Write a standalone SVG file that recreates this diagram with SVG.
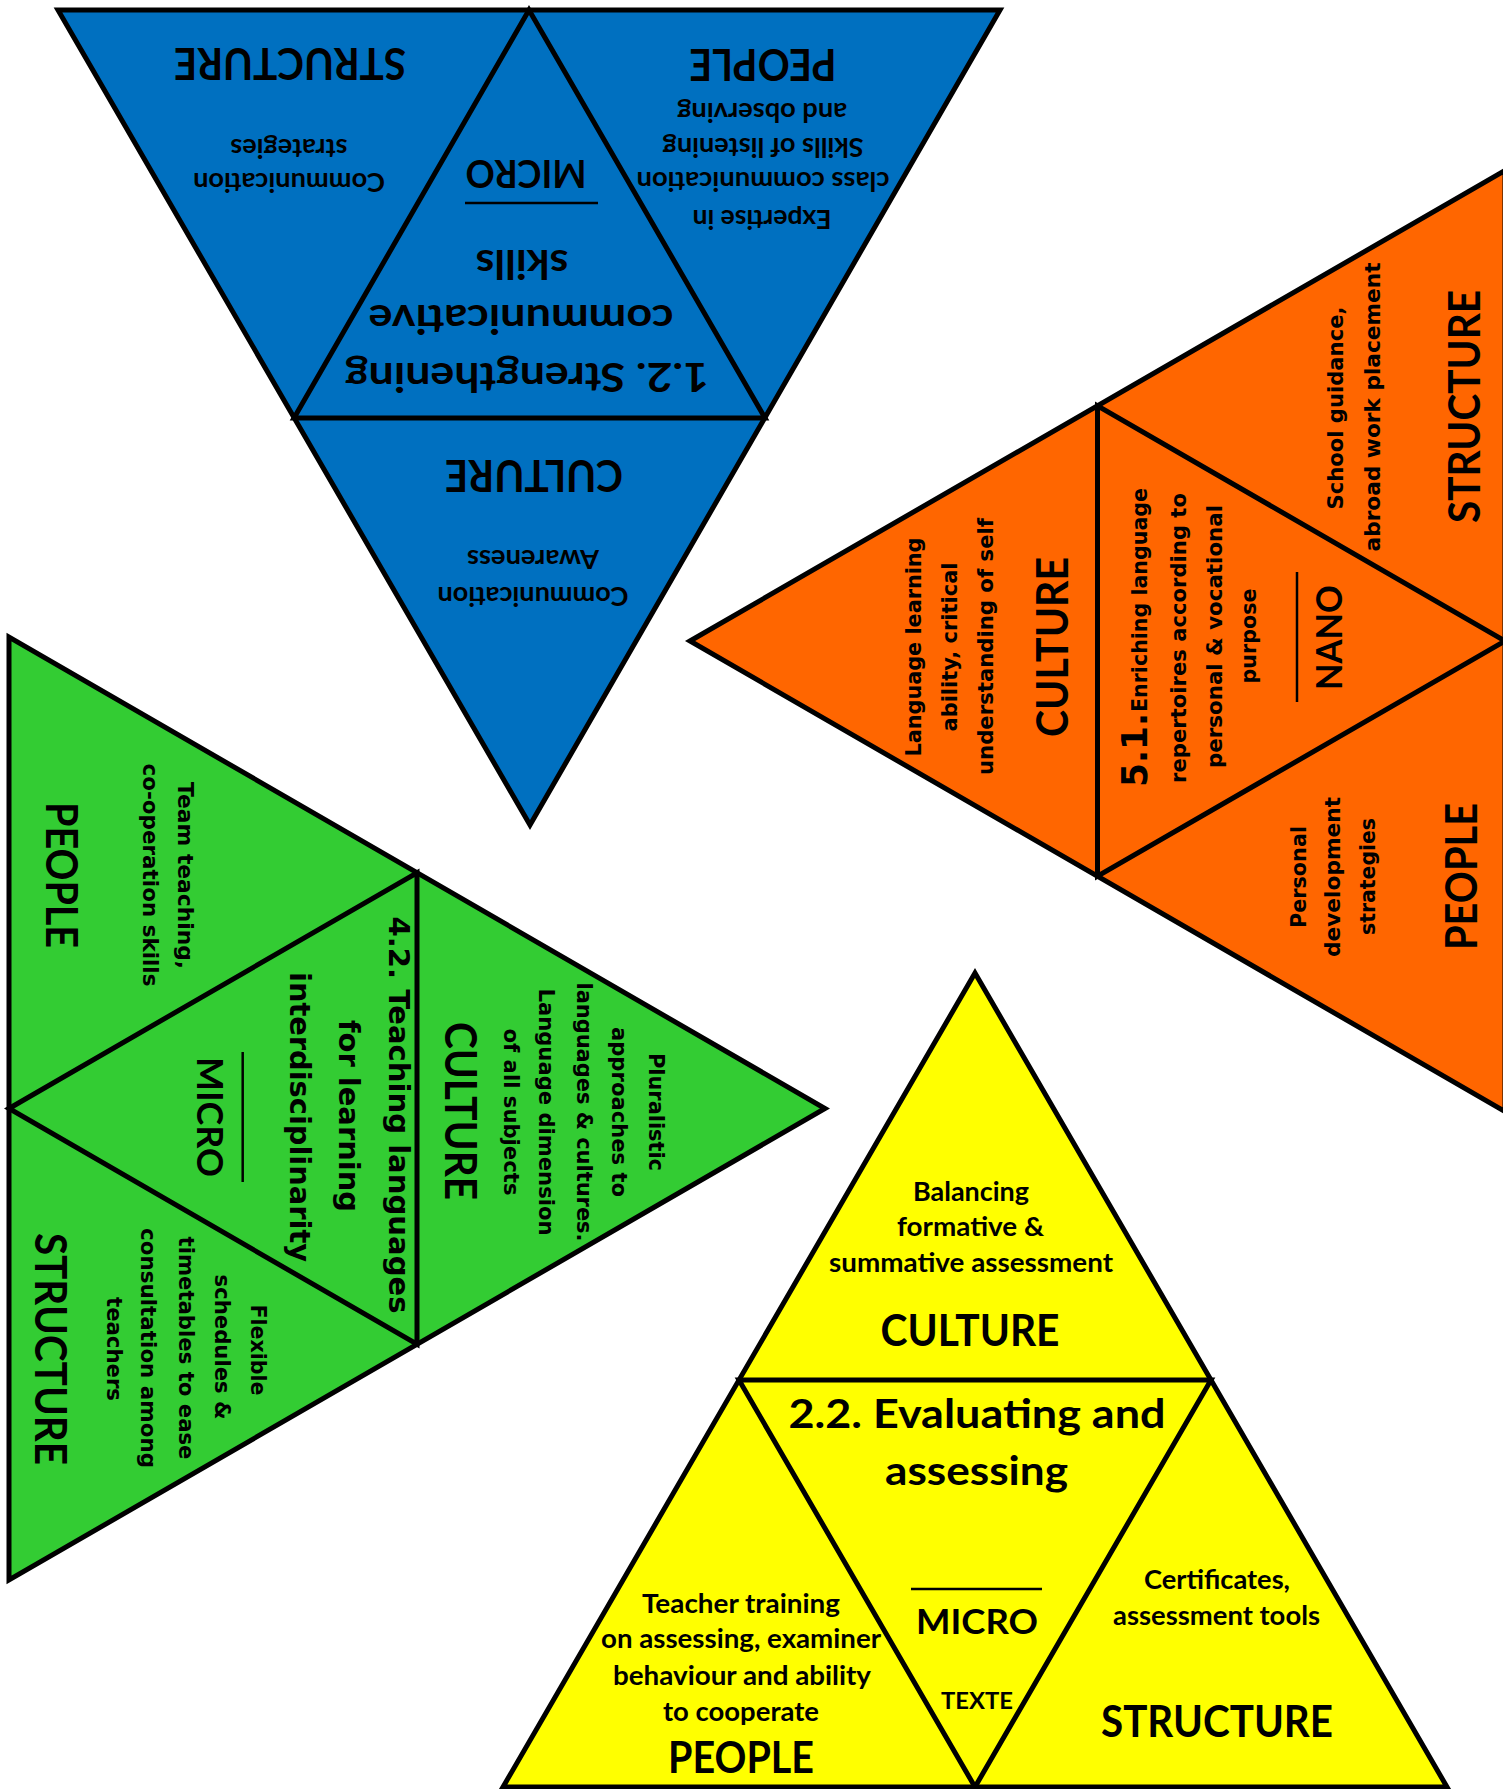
<svg xmlns="http://www.w3.org/2000/svg" width="1503" height="1789" viewBox="0 0 1503 1789">
<style>
.tri{stroke:#000;stroke-width:5;stroke-linejoin:miter}
.in{fill:none;stroke:#000;stroke-width:5;stroke-linejoin:miter}
.ul{stroke:#000;stroke-width:2.5}
text{fill:#000;font-weight:bold;text-anchor:middle}
.c{font-family:Lato,"Open Sans","Liberation Sans",sans-serif}
.d{font-family:"DejaVu Sans","Liberation Sans",sans-serif}
.lab{font-size:43px}
.s{font-size:26px}
.ds{font-size:21.5px}
</style>
<rect width="1503" height="1789" fill="#fff"/>

<g id="blue">
<polygon class="tri" fill="#0070C0" points="58,10 1000,10 530,825"/>
<polygon class="in" points="529,10 294,418 765,418"/>
<line class="ul" x1="465" y1="203" x2="598" y2="203"/>
<g class="c">
<text class="lab" textLength="232" lengthAdjust="spacingAndGlyphs" transform="translate(290,48) rotate(180)">STRUCTURE</text>
<text class="s" textLength="117" lengthAdjust="spacingAndGlyphs" transform="translate(289,139) rotate(180)">strategies</text>
<text class="s" textLength="192" lengthAdjust="spacingAndGlyphs" transform="translate(289,173) rotate(180)">Communication</text>
<text class="lab" textLength="147" lengthAdjust="spacingAndGlyphs" transform="translate(763,49) rotate(180)">PEOPLE</text>
<text class="s" textLength="170" lengthAdjust="spacingAndGlyphs" transform="translate(762,103) rotate(180)">and observing</text>
<text class="s" textLength="201" lengthAdjust="spacingAndGlyphs" transform="translate(763,138) rotate(180)">Skills of listening</text>
<text class="s" textLength="253" lengthAdjust="spacingAndGlyphs" transform="translate(763,172) rotate(180)">class communication</text>
<text class="s" textLength="139" lengthAdjust="spacingAndGlyphs" transform="translate(762,210) rotate(180)">Expertise in</text>
<text font-size="38" textLength="121" lengthAdjust="spacingAndGlyphs" transform="translate(526,160) rotate(180)">MICRO</text>
<text font-size="40" textLength="93" lengthAdjust="spacingAndGlyphs" transform="translate(522,250) rotate(180)">skills</text>
<text font-size="40" textLength="305" lengthAdjust="spacingAndGlyphs" transform="translate(521,305) rotate(180)">communicative</text>
<text font-size="40" textLength="364" lengthAdjust="spacingAndGlyphs" transform="translate(527,363) rotate(180)">1.2. Strengthening</text>
<text class="lab" textLength="178" lengthAdjust="spacingAndGlyphs" transform="translate(534,460) rotate(180)">CULTURE</text>
<text class="s" textLength="132" lengthAdjust="spacingAndGlyphs" transform="translate(533,550) rotate(180)">Awareness</text>
<text class="s" textLength="191" lengthAdjust="spacingAndGlyphs" transform="translate(533,587) rotate(180)">Communication</text>
</g>
</g>

<g id="orange">
<polygon class="tri" fill="#FF6600" points="690,641 1505,170.5 1505,1111.5"/>
<polygon class="in" points="1097.5,405.75 1097.5,876.25 1505,641"/>
<line class="ul" x1="1297" y1="572" x2="1297" y2="702"/>
<g class="d ds">
<text textLength="219" lengthAdjust="spacingAndGlyphs" transform="translate(921,647) rotate(-90)">Language learning</text>
<text textLength="169" lengthAdjust="spacingAndGlyphs" transform="translate(957,647) rotate(-90)">ability, critical</text>
<text textLength="257" lengthAdjust="spacingAndGlyphs" transform="translate(993,646.5) rotate(-90)">understanding of self</text>
<text font-size="35" textLength="74" lengthAdjust="spacingAndGlyphs" transform="translate(1147,750) rotate(-90)">5.1.</text>
<text textLength="224" lengthAdjust="spacingAndGlyphs" transform="translate(1147,600) rotate(-90)">Enriching language</text>
<text textLength="290" lengthAdjust="spacingAndGlyphs" transform="translate(1186,638) rotate(-90)">repertoires according to</text>
<text textLength="263" lengthAdjust="spacingAndGlyphs" transform="translate(1222,636.5) rotate(-90)">personal &amp; vocational</text>
<text textLength="95" lengthAdjust="spacingAndGlyphs" transform="translate(1256,636) rotate(-90)">purpose</text>
<text textLength="203" lengthAdjust="spacingAndGlyphs" transform="translate(1343,408) rotate(-90)">School guidance,</text>
<text textLength="289" lengthAdjust="spacingAndGlyphs" transform="translate(1380,407) rotate(-90)">abroad work placement</text>
<text textLength="102" lengthAdjust="spacingAndGlyphs" transform="translate(1306,877) rotate(-90)">Personal</text>
<text textLength="160" lengthAdjust="spacingAndGlyphs" transform="translate(1340,877) rotate(-90)">development</text>
<text textLength="117" lengthAdjust="spacingAndGlyphs" transform="translate(1375,876.5) rotate(-90)">strategies</text>
</g>
<g class="c lab">
<text textLength="180" lengthAdjust="spacingAndGlyphs" transform="translate(1068,647) rotate(-90)">CULTURE</text>
<text font-size="37" textLength="105" lengthAdjust="spacingAndGlyphs" transform="translate(1342,637.5) rotate(-90)">NANO</text>
<text textLength="233" lengthAdjust="spacingAndGlyphs" transform="translate(1480,406.5) rotate(-90)">STRUCTURE</text>
<text textLength="147" lengthAdjust="spacingAndGlyphs" transform="translate(1477,876.5) rotate(-90)">PEOPLE</text>
</g>
</g>

<g id="green">
<polygon class="tri" fill="#33CC33" points="9,637 9,1580 825,1108.5"/>
<polygon class="in" points="9,1108.5 417,872.75 417,1344.25"/>
<line class="ul" x1="242.7" y1="1052" x2="242.7" y2="1182"/>
<g class="d ds">
<text textLength="187" lengthAdjust="spacingAndGlyphs" transform="translate(178,875.6) rotate(90)">Team teaching,</text>
<text textLength="223" lengthAdjust="spacingAndGlyphs" transform="translate(143,875) rotate(90)">co-operation skills</text>
<text font-size="29" textLength="397" lengthAdjust="spacingAndGlyphs" transform="translate(389,1115) rotate(90)">4.2. Teaching languages</text>
<text font-size="29" textLength="192" lengthAdjust="spacingAndGlyphs" transform="translate(339,1116) rotate(90)">for learning</text>
<text font-size="29" textLength="290" lengthAdjust="spacingAndGlyphs" transform="translate(290,1117) rotate(90)">interdisciplinarity</text>
<text textLength="118" lengthAdjust="spacingAndGlyphs" transform="translate(649,1112) rotate(90)">Pluralistic</text>
<text textLength="170" lengthAdjust="spacingAndGlyphs" transform="translate(612,1112) rotate(90)">approaches to</text>
<text textLength="259" lengthAdjust="spacingAndGlyphs" transform="translate(577,1112) rotate(90)">languages &amp; cultures.</text>
<text textLength="247" lengthAdjust="spacingAndGlyphs" transform="translate(539,1112) rotate(90)">Language dimension</text>
<text textLength="167" lengthAdjust="spacingAndGlyphs" transform="translate(504,1112) rotate(90)">of all subjects</text>
<text textLength="91" lengthAdjust="spacingAndGlyphs" transform="translate(251,1350) rotate(90)">Flexible</text>
<text textLength="145" lengthAdjust="spacingAndGlyphs" transform="translate(215,1347) rotate(90)">schedules &amp;</text>
<text textLength="223" lengthAdjust="spacingAndGlyphs" transform="translate(179,1348) rotate(90)">timetables to ease</text>
<text textLength="240" lengthAdjust="spacingAndGlyphs" transform="translate(141,1348) rotate(90)">consultation among</text>
<text textLength="104" lengthAdjust="spacingAndGlyphs" transform="translate(107,1349) rotate(90)">teachers</text>
</g>
<g class="c lab">
<text textLength="146" lengthAdjust="spacingAndGlyphs" transform="translate(45.5,875) rotate(90)">PEOPLE</text>
<text font-size="37" textLength="120" lengthAdjust="spacingAndGlyphs" transform="translate(197,1117) rotate(90)">MICRO</text>
<text textLength="178" lengthAdjust="spacingAndGlyphs" transform="translate(444.6,1111) rotate(90)">CULTURE</text>
<text textLength="232" lengthAdjust="spacingAndGlyphs" transform="translate(35,1349) rotate(90)">STRUCTURE</text>
</g>
</g>

<g id="yellow">
<polygon class="tri" fill="#FFFF00" points="975,973 1447,1787 503,1787"/>
<polygon class="in" points="739,1380 1211,1380 975,1787"/>
<line class="ul" x1="911" y1="1589" x2="1042" y2="1589"/>
<g class="c">
<text class="s" x="971" y="1201" textLength="116" lengthAdjust="spacingAndGlyphs">Balancing</text>
<text class="s" x="970.5" y="1236" textLength="147" lengthAdjust="spacingAndGlyphs">formative &amp;</text>
<text class="s" x="971" y="1272" textLength="284" lengthAdjust="spacingAndGlyphs">summative assessment</text>
<text class="lab" x="970" y="1346" textLength="179" lengthAdjust="spacingAndGlyphs">CULTURE</text>
<text font-size="40" x="977" y="1428" textLength="377" lengthAdjust="spacingAndGlyphs">2.2. Evaluating and</text>
<text font-size="40" x="976.5" y="1485" textLength="183" lengthAdjust="spacingAndGlyphs">assessing</text>
<text font-size="35" x="977" y="1634" textLength="122" lengthAdjust="spacingAndGlyphs">MICRO</text>
<text font-size="23" x="977" y="1709" textLength="72" lengthAdjust="spacingAndGlyphs">TEXTE</text>
<text class="s" x="741" y="1613" textLength="198" lengthAdjust="spacingAndGlyphs">Teacher training</text>
<text class="s" x="741" y="1648" textLength="280" lengthAdjust="spacingAndGlyphs">on assessing, examiner</text>
<text class="s" x="742" y="1685" textLength="258" lengthAdjust="spacingAndGlyphs">behaviour and ability</text>
<text class="s" x="741" y="1721" textLength="156" lengthAdjust="spacingAndGlyphs">to cooperate</text>
<text class="lab" x="741" y="1773" textLength="146" lengthAdjust="spacingAndGlyphs">PEOPLE</text>
<text class="s" x="1217" y="1589" textLength="146" lengthAdjust="spacingAndGlyphs">Certificates,</text>
<text class="s" x="1216.5" y="1625" textLength="207" lengthAdjust="spacingAndGlyphs">assessment tools</text>
<text class="lab" x="1217" y="1737" textLength="232" lengthAdjust="spacingAndGlyphs">STRUCTURE</text>
</g>
</g>
</svg>
